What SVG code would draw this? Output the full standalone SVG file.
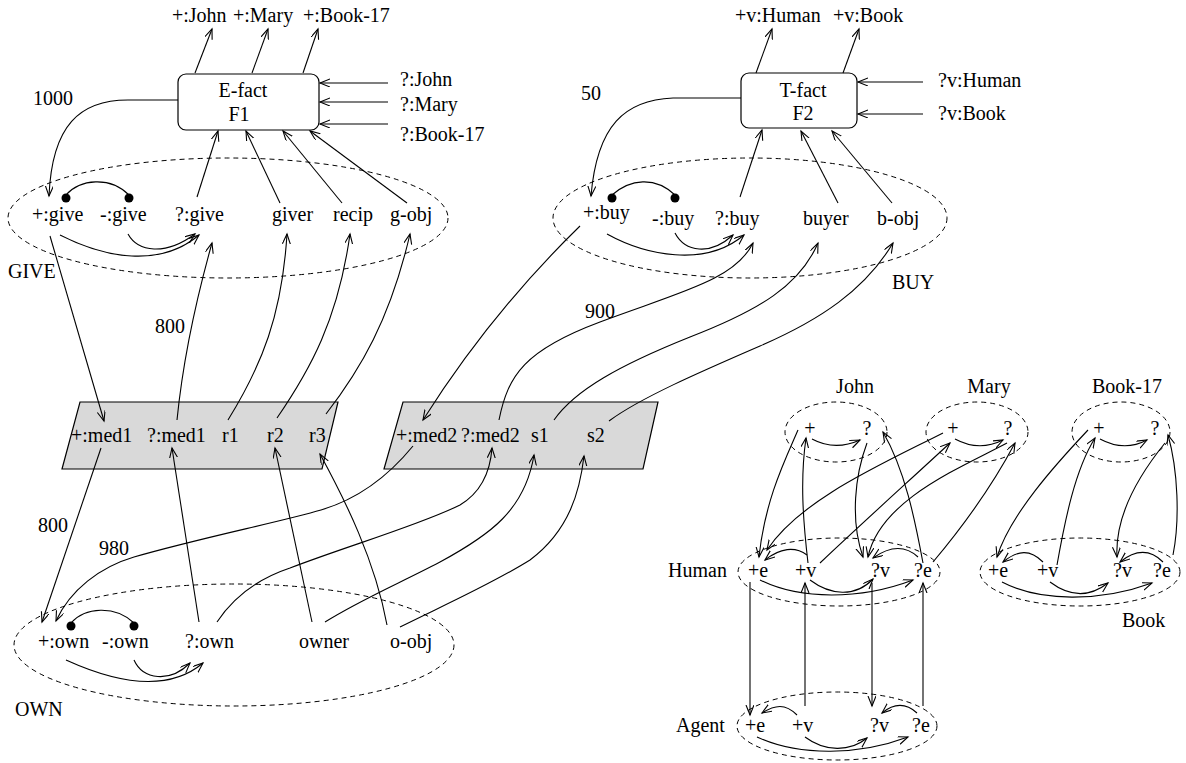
<svg xmlns="http://www.w3.org/2000/svg" width="1186" height="763" viewBox="0 0 1186 763">
<style>
text{font-family:"Liberation Serif","Times New Roman",serif;font-size:20px;fill:#000}
.m{text-anchor:middle}
.dash{fill:none;stroke:#000;stroke-width:1;stroke-dasharray:5,4}
.box{fill:#fff;stroke:#000;stroke-width:1.2}
.para{fill:#d9d9d9;stroke:#000;stroke-width:1.2}
.c{fill:none;stroke:#000;stroke-width:1.1}
.a{fill:none;stroke:#000;stroke-width:1.1;marker-end:url(#ah)}
.dot{fill:#000}
</style>
<defs>
<marker id="ah" markerUnits="userSpaceOnUse" markerWidth="12" markerHeight="10" refX="10" refY="4" orient="auto">
<path d="M0,0 L10,4 L0,8" fill="none" stroke="#000" stroke-width="1.1"/>
</marker>
</defs>
<rect width="1186" height="763" fill="#fff"/>

<g id="efact">
<rect class="box" x="178" y="74" width="141" height="56" rx="8"/>
<text class="m" x="243" y="97">E-fact</text>
<text class="m" x="239" y="121">F1</text>
</g>
<g id="tfact">
<rect class="box" x="741" y="73" width="116" height="55" rx="8"/>
<text class="m" x="803" y="97">T-fact</text>
<text class="m" x="803" y="120">F2</text>
</g>

<g id="efact-io">
<text x="172" y="22">+:John</text>
<text x="233" y="22">+:Mary</text>
<text x="303" y="22">+:Book-17</text>
<text x="400" y="86">?:John</text>
<text x="400" y="111">?:Mary</text>
<text x="400" y="141">?:Book-17</text>
</g>
<g id="tfact-io">
<text x="735" y="22">+v:Human</text>
<text x="833" y="22">+v:Book</text>
<text x="938" y="87">?v:Human</text>
<text x="938" y="120">?v:Book</text>
</g>

<g id="give">
<ellipse class="dash" cx="228" cy="218" rx="220" ry="60"/>
<text x="32" y="221">+:give</text>
<text x="100" y="221">-:give</text>
<text x="175" y="221">?:give</text>
<text x="272" y="221">giver</text>
<text x="333" y="221">recip</text>
<text x="390" y="221">g-obj</text>
<text x="8" y="278">GIVE</text>
<circle class="dot" cx="66" cy="198" r="4.5"/>
<circle class="dot" cx="129" cy="198" r="4.5"/>
</g>

<g id="buy">
<ellipse class="dash" cx="750" cy="218" rx="197" ry="60"/>
<text x="583" y="219">+:buy</text>
<text x="652" y="225">-:buy</text>
<text x="715" y="225">?:buy</text>
<text x="803" y="225">buyer</text>
<text x="877" y="225">b-obj</text>
<text x="892" y="289">BUY</text>
<circle class="dot" cx="612" cy="198" r="4.5"/>
<circle class="dot" cx="675" cy="198" r="4.5"/>
</g>

<g id="med1">
<polygon class="para" points="80,402 338,402 322,469 62,469"/>
<text x="71" y="442">+:med1</text>
<text x="147" y="442">?:med1</text>
<text x="222" y="442">r1</text>
<text x="267" y="442">r2</text>
<text x="309" y="442">r3</text>
</g>
<g id="med2">
<polygon class="para" points="403,402 658,402 643,469 384,469"/>
<text x="396" y="442">+:med2</text>
<text x="461" y="442">?:med2</text>
<text x="531" y="442">s1</text>
<text x="587" y="442">s2</text>
</g>

<g id="own">
<ellipse class="dash" cx="234" cy="645" rx="220" ry="61"/>
<text x="38" y="648">+:own</text>
<text x="102" y="648">-:own</text>
<text x="185" y="648">?:own</text>
<text x="299" y="648">owner</text>
<text x="390" y="648">o-obj</text>
<text x="15" y="716">OWN</text>
<circle class="dot" cx="71" cy="626" r="4.5"/>
<circle class="dot" cx="134" cy="626" r="4.5"/>
</g>

<g id="weights">
<text x="33" y="105">1000</text>
<text x="581" y="100">50</text>
<text x="155" y="333">800</text>
<text x="585" y="318">900</text>
<text x="38" y="532">800</text>
<text x="99" y="555">980</text>
</g>

<g id="john">
<ellipse class="dash" cx="836" cy="432" rx="51" ry="30"/>
<text class="m" x="855" y="393">John</text>
<text class="m" x="810" y="435">+</text>
<text class="m" x="867" y="435">?</text>
</g>
<g id="mary">
<ellipse class="dash" cx="977" cy="432" rx="51" ry="30"/>
<text class="m" x="989" y="393">Mary</text>
<text class="m" x="953" y="435">+</text>
<text class="m" x="1008" y="435">?</text>
</g>
<g id="book17">
<ellipse class="dash" cx="1121" cy="432" rx="49" ry="30"/>
<text class="m" x="1127" y="393">Book-17</text>
<text class="m" x="1099" y="435">+</text>
<text class="m" x="1155" y="435">?</text>
</g>
<g id="human">
<ellipse class="dash" cx="839" cy="572" rx="101" ry="34"/>
<text x="668" y="577">Human</text>
<text x="748" y="577">+e</text>
<text x="795" y="577">+v</text>
<text x="871" y="577">?v</text>
<text x="914" y="577">?e</text>
</g>
<g id="book">
<ellipse class="dash" cx="1080" cy="572" rx="100" ry="34"/>
<text x="988" y="577">+e</text>
<text x="1037" y="577">+v</text>
<text x="1113" y="577">?v</text>
<text x="1153" y="577">?e</text>
<text x="1122" y="627">Book</text>
</g>
<g id="agent">
<ellipse class="dash" cx="837" cy="726" rx="100" ry="34"/>
<text x="676" y="732">Agent</text>
<text x="745" y="732">+e</text>
<text x="792" y="732">+v</text>
<text x="870" y="732">?v</text>
<text x="912" y="732">?e</text>
</g>

<g id="connectors">
<path class="a" d="M195,73 L212,29"/>
<path class="a" d="M252,73 L268,29"/>
<path class="a" d="M303,73 L318,29"/>
<path class="a" d="M756,73 L772,29"/>
<path class="a" d="M843,73 L859,29"/>
<path class="a" d="M388,83 L320,83"/>
<path class="a" d="M388,102 L320,102"/>
<path class="a" d="M388,124 L320,124"/>
<path class="a" d="M923,82 L858,82"/>
<path class="a" d="M923,114 L858,114"/>
<path class="a" d="M178,100 L128,100 C80,100 52,125 49,196"/>
<path class="a" d="M741,98 L673,98 C625,100 597,125 591,196"/>
<path class="a" d="M197,197 L218,131"/>
<path class="a" d="M280,203 L246,131"/>
<path class="a" d="M342,203 L283,131"/>
<path class="a" d="M407,203 L310,131"/>
<path class="a" d="M740,197 L762,130"/>
<path class="a" d="M838,203 L801,131"/>
<path class="a" d="M892,203 L832,131"/>
<path class="c" d="M66,195 C80,179 110,176 129,195"/>
<path class="a" d="M128,234 C138,252 165,256 195,234"/>
<path class="a" d="M60,235 C105,258 160,268 199,235"/>
<path class="c" d="M612,195 C630,179 655,176 675,195"/>
<path class="a" d="M675,233 C685,252 710,256 733,235"/>
<path class="a" d="M607,234 C645,255 705,268 744,235"/>
<path class="c" d="M71,623 C85,607 115,605 134,623"/>
<path class="a" d="M134,660 C143,680 170,683 190,663"/>
<path class="a" d="M66,660 C110,680 165,695 203,663"/>
<path class="a" d="M50,236 L104,421"/>
<path class="a" d="M177,420 C183,360 196,300 212,243"/>
<path class="a" d="M228,420 C262,365 282,315 287,234"/>
<path class="a" d="M277,418 C310,370 338,320 350,234"/>
<path class="a" d="M326,414 C360,370 390,320 410,234"/>
<path class="a" d="M580,226 C540,265 480,330 423,420"/>
<path class="a" d="M499,420 C508,375 525,350 600,322 C680,292 735,280 753,243"/>
<path class="a" d="M554,420 C575,390 620,365 690,337 C760,310 800,285 818,243"/>
<path class="a" d="M609,421 C640,398 700,372 760,346 C820,320 865,290 893,243"/>
<path class="a" d="M101,448 L42,622"/>
<path class="a" d="M199,622 L172,448"/>
<path class="a" d="M312,622 L275,448"/>
<path class="a" d="M387,625 C375,560 345,500 320,454"/>
<path class="a" d="M413,446 C395,468 365,497 321,510 C280,522 200,538 134,557 C100,567 70,590 56,621"/>
<path class="a" d="M217,622 C235,595 260,578 290,568 C350,545 420,525 460,505 C480,493 490,475 492,448"/>
<path class="a" d="M325,622 C360,600 400,583 440,562 C490,535 525,510 534,455"/>
<path class="a" d="M400,627 C440,607 490,585 530,560 C570,530 580,490 584,456"/>
<path class="a" d="M750,582 L750,715"/>
<path class="a" d="M805,706 L805,583"/>
<path class="a" d="M872,583 L872,706"/>
<path class="a" d="M923,706 L923,583"/>
<path class="a" d="M807,555 C795,546 780,548 765,560"/>
<path class="a" d="M918,557 C905,545 890,546 873,558"/>
<path class="a" d="M760,580 C800,600 860,600 913,580"/>
<path class="a" d="M810,580 C830,595 855,598 873,579"/>
<path class="a" d="M797,715 C785,703 775,705 762,713"/>
<path class="a" d="M917,713 C905,702 893,704 882,713"/>
<path class="a" d="M757,737 C800,757 860,755 908,737"/>
<path class="a" d="M805,737 C825,752 850,752 867,738"/>
<path class="a" d="M1043,562 C1030,549 1018,550 1003,562"/>
<path class="a" d="M1163,562 C1150,549 1135,550 1120,562"/>
<path class="a" d="M1002,582 C1040,602 1100,602 1152,583"/>
<path class="a" d="M1050,582 C1070,597 1090,597 1108,583"/>
<path class="a" d="M812,439 C825,446 840,449 860,440"/>
<path class="a" d="M955,439 C968,446 985,449 1003,440"/>
<path class="a" d="M1100,439 C1113,446 1130,449 1147,440"/>
<path class="a" d="M798,430 C785,460 765,500 759,557"/>
<path class="a" d="M808,563 C803,520 800,480 806,438"/>
<path class="a" d="M867,443 C855,475 850,520 863,557"/>
<path class="a" d="M923,563 C915,520 905,470 883,432"/>
<path class="a" d="M943,433 C880,465 800,500 767,550"/>
<path class="a" d="M820,563 C860,525 910,480 950,443"/>
<path class="a" d="M1007,443 C960,468 880,500 868,557"/>
<path class="a" d="M933,562 C960,530 990,490 1015,443"/>
<path class="a" d="M1088,430 C1055,465 1010,515 997,557"/>
<path class="a" d="M1057,565 C1065,520 1075,470 1095,438"/>
<path class="a" d="M1165,443 C1135,480 1115,520 1117,557"/>
<path class="a" d="M1173,555 C1180,520 1178,470 1168,435"/>
</g>
</svg>
